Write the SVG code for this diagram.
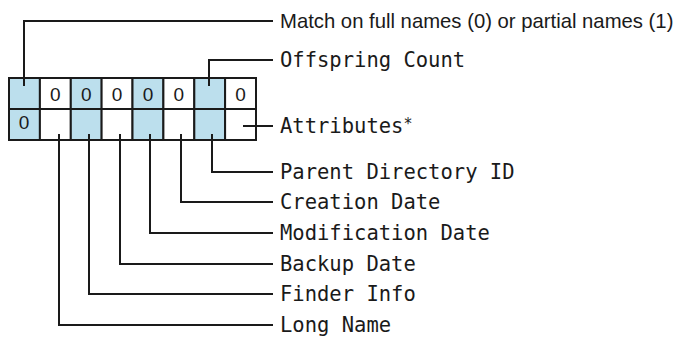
<svg xmlns="http://www.w3.org/2000/svg" width="679" height="337" viewBox="0 0 679 337">
  <style>
    .cell { fill: #ffffff; stroke: #1a1a1a; stroke-width: 2; }
    .cell.hl { fill: #bcdfed; }
    .bit { font-family: "Liberation Sans", Arial, sans-serif; font-size: 19px; fill: #1a1a1a; text-anchor: middle; }
    .lbl { font-family: "DejaVu Sans Mono", "Liberation Mono", monospace; font-size: 20.5px; fill: #1a1a1a; }
    .lbl.sans { font-family: "Liberation Sans", Arial, sans-serif; font-size: 20.3px; }
    .note { font-size: 15px; }
    .wire { fill: none; stroke: #1a1a1a; stroke-width: 2; }
  </style>
  <rect width="679" height="337" fill="#ffffff"/>

  <!-- two rows of eight bit cells -->
  <g id="bits">
    <rect class="cell hl" x="9" y="78" width="30.9" height="31"/>
    <rect class="cell" x="39.9" y="78" width="30.9" height="31"/>
    <rect class="cell hl" x="70.8" y="78" width="30.9" height="31"/>
    <rect class="cell" x="101.6" y="78" width="30.9" height="31"/>
    <rect class="cell hl" x="132.5" y="78" width="30.9" height="31"/>
    <rect class="cell" x="163.4" y="78" width="30.9" height="31"/>
    <rect class="cell hl" x="194.3" y="78" width="30.9" height="31"/>
    <rect class="cell" x="225.1" y="78" width="30.9" height="31"/>

    <rect class="cell hl" x="9" y="109" width="30.9" height="31"/>
    <rect class="cell" x="39.9" y="109" width="30.9" height="31"/>
    <rect class="cell hl" x="70.8" y="109" width="30.9" height="31"/>
    <rect class="cell" x="101.6" y="109" width="30.9" height="31"/>
    <rect class="cell hl" x="132.5" y="109" width="30.9" height="31"/>
    <rect class="cell" x="163.4" y="109" width="30.9" height="31"/>
    <rect class="cell hl" x="194.3" y="109" width="30.9" height="31"/>
    <rect class="cell" x="225.1" y="109" width="30.9" height="31"/>

    <text class="bit" x="55.3" y="101">0</text>
    <text class="bit" x="86.2" y="101">0</text>
    <text class="bit" x="117" y="101">0</text>
    <text class="bit" x="148" y="101">0</text>
    <text class="bit" x="178.8" y="101">0</text>
    <text class="bit" x="240.5" y="101">0</text>
    <text class="bit" x="24" y="129">0</text>
  </g>

  <!-- leader lines from the cells to their labels -->
  <g id="connectors">
    <polyline class="wire" points="24,86 24,21 273,21"/>
    <polyline class="wire" points="209,86 209,60 273,60"/>
    <polyline class="wire" points="243,126 273,126"/>
    <polyline class="wire" points="212,134 212,172 273,172"/>
    <polyline class="wire" points="181,134 181,202 273,202"/>
    <polyline class="wire" points="150,134 150,233 273,233"/>
    <polyline class="wire" points="120,134 120,264 273,264"/>
    <polyline class="wire" points="89,134 89,294 273,294"/>
    <polyline class="wire" points="59,134 59,325 273,325"/>
  </g>

  <g id="label-match"><text class="lbl sans" x="280" y="28">Match on full names (0) or partial names (1)</text></g>
  <g id="label-offspring"><text class="lbl" x="280" y="67">Offspring Count</text></g>
  <g id="label-attributes"><text class="lbl" x="280" y="133">Attributes<tspan class="note" dy="-4">*</tspan></text></g>
  <g id="label-parent"><text class="lbl" x="280" y="179">Parent Directory ID</text></g>
  <g id="label-creation"><text class="lbl" x="280" y="209">Creation Date</text></g>
  <g id="label-modification"><text class="lbl" x="280" y="240">Modification Date</text></g>
  <g id="label-backup"><text class="lbl" x="280" y="271">Backup Date</text></g>
  <g id="label-finder"><text class="lbl" x="280" y="301">Finder Info</text></g>
  <g id="label-longname"><text class="lbl" x="280" y="332">Long Name</text></g>
</svg>
